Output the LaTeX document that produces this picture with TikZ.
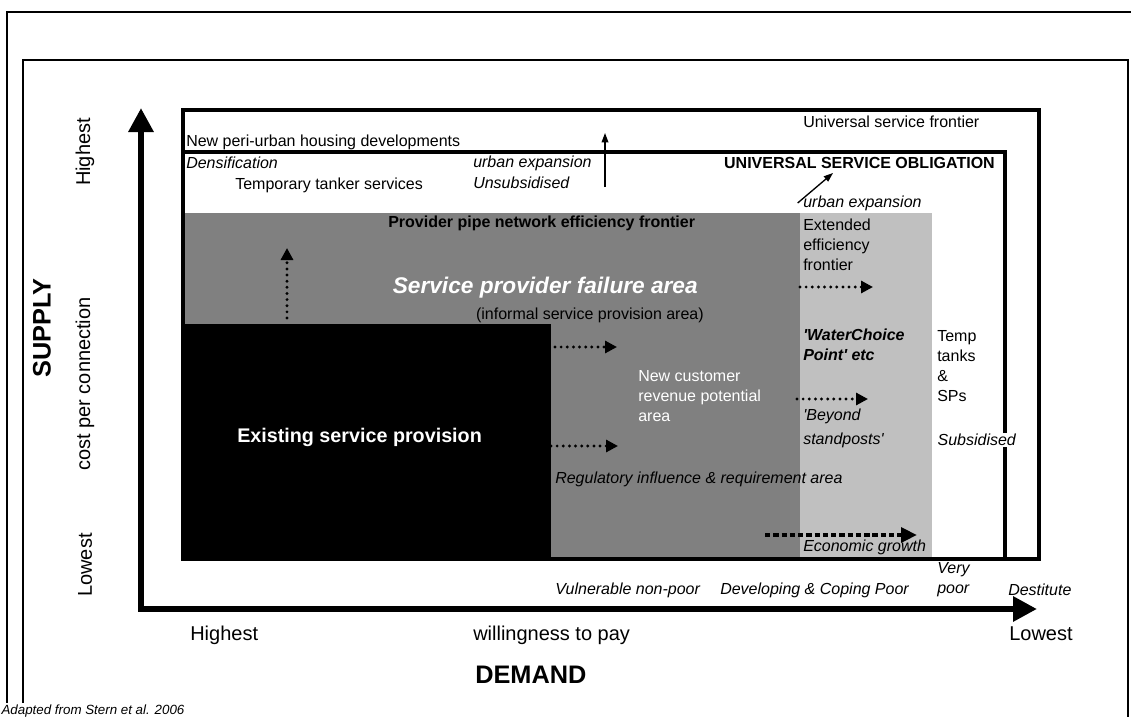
\documentclass[tikz,border=0pt]{standalone}
\usepackage{fontspec}
\setmainfont{Liberation Sans}
\usetikzlibrary{arrows.meta}
\definecolor{midgrey}{HTML}{808080}
\definecolor{lightgrey}{HTML}{C0C0C0}

\begin{document}
\begin{tikzpicture}[x=0.75pt,y=-0.75pt,
        every node/.style={inner sep=0pt,anchor=west,align=left,font=\fontsize{12}{15}\selectfont},
        it/.style={font=\fontsize{12}{15}\selectfont\itshape},
        axislbl/.style={font=\fontsize{15}{18}\selectfont},
        title/.style={font=\fontsize{19}{22}\selectfont\bfseries},
        axis/.style={line width=5.2pt,{Triangle[length=18pt,width=18pt]}-{Triangle[length=18pt,width=18pt]}},
        dots/.style={line width=2.4pt,line cap=round,dash pattern=on 0pt off 4.6pt,-{Triangle[length=9pt,width=9pt]}},
        thinarrow/.style={line width=1pt,-{Triangle[length=7pt,width=5pt]}}]
    \useasboundingbox (0,0) rectangle (1131,717);
    \draw[line width=1.5pt] (7,720) -- (7,12) -- (1135,12);
    \draw[line width=1.5pt] (23,720) -- (23,60) -- (1128,60) -- (1128,720);
    \fill[midgrey] (185,213) rectangle (800,559);
    \fill[lightgrey] (800,213) rectangle (932,559);
    \fill (185,324) rectangle (551,559);
    \draw[line width=3pt] (183,110) rectangle (1039,559);
    \draw[line width=3pt] (183,152) -- (1005,152) -- (1005,559);
    \coordinate (top) at (141,108);
    \coordinate (origin) at (141,609);
    \coordinate (right) at (1037,609);
    \draw[axis] (top) -- (origin) -- (right);

    \node (peri) at (186,142) {New peri-urban housing developments};
    \node (usf) at (803,122) {Universal service frontier};
    \node[it] (dens) at (186,163) {Densification};
    \node (tanker) at (235,185) {Temporary tanker services};
    \node[it] (ue1) at (473,163) {urban expansion};
    \node[it] (unsub) at (473,183) {Unsubsidised};
    \node[anchor=east,font=\fontsize{12}{15}\selectfont\bfseries] (uso) at (995,163) {UNIVERSAL SERVICE OBLIGATION};
    \node[it] (ue2) at (803,203) {urban expansion};
    \node[font=\fontsize{12}{15}\selectfont\bfseries] (pipe) at (388,223) {Provider pipe network efficiency frontier};
    \node[anchor=east,white,font=\fontsize{17}{20}\selectfont\bfseries\itshape] (fail) at (698,288) {Service provider failure area};
    \node[anchor=east] (informal) at (704,315) {(informal service provision area)};
    \node[white,font=\fontsize{14.8}{18}\selectfont\bfseries] (exist) at (237,437) {Existing service provision};
    \node[white] (newcust) at (638,396) {New customer\\revenue potential\\area};
    \node[it] (reg) at (555,479) {Regulatory influence \& requirement area};
    \node (ext) at (803,245) {Extended\\efficiency\\frontier};
    \node[font=\fontsize{12}{15}\selectfont\bfseries\itshape] (wcp) at (803,345) {\textquotesingle WaterChoice\\Point\textquotesingle{} etc};
    \node[it] (beyond) at (803,428) {\textquotesingle Beyond\\[3pt]standposts\textquotesingle};
    \node (temp) at (937,366) {Temp\\tanks\\\&\\SPs};
    \node[it,fill=white,inner sep=1pt] (subs) at (936,440) {Subsidised};
    \node[it] (econ) at (803,547) {Economic growth};
    \node[it] (vuln) at (555,590) {Vulnerable non-poor};
    \node[it] (dev) at (720,590) {Developing \& Coping Poor};
    \node[it] (vpoor) at (937,580) {Very\\poor};
    \node[it] (dest) at (1008,590) {Destitute};
    \node[axislbl] (dhigh) at (190,635) {Highest};
    \node[axislbl] (wtp) at (473,635) {willingness to pay};
    \node[axislbl] (dlow) at (1009,634) {Lowest};
    \node[title] (demand) at (475,675) {DEMAND};
    \node[axislbl,rotate=90,anchor=center] (shigh) at (85,152) {Highest};
    \node[axislbl,rotate=90,anchor=center] (cost) at (85,384) {cost per connection};
    \node[axislbl,rotate=90,anchor=center] (slow) at (85,565) {Lowest};
    \node[title,rotate=90,anchor=center] (supply) at (42,328) {SUPPLY};
    \node[fill=white,inner sep=1pt,font=\fontsize{10}{12}\selectfont\itshape] (src) at (0,711) {Adapted from Stern et al. 2006};

    \foreach[count=\i] \sx/\sy/\ex/\ey in {287/318/287/248,555/347/617/347,551/446/618/446,800/287/873/287,797/399/868/399}{
        \coordinate (s\i) at (\sx,\sy);
        \coordinate (e\i) at (\ex,\ey);
        \draw[dots] (s\i) -- (e\i);
    }
    \coordinate (g1) at (765,535);
    \coordinate (g2) at (917,535);
    \draw[line width=3.6pt,dash pattern=on 4pt off 2.2pt,-{Triangle[length=12pt,width=11pt]}] (g1) -- (g2);
    \coordinate (up1) at (605,187);
    \coordinate (up2) at (605,133);
    \draw[thinarrow] (up1) -- (up2);
    \coordinate (ue3) at (833,173);
    \draw[thinarrow] ([xshift=-4pt]ue2.west) -- (ue3);
\end{tikzpicture}
\end{document}
